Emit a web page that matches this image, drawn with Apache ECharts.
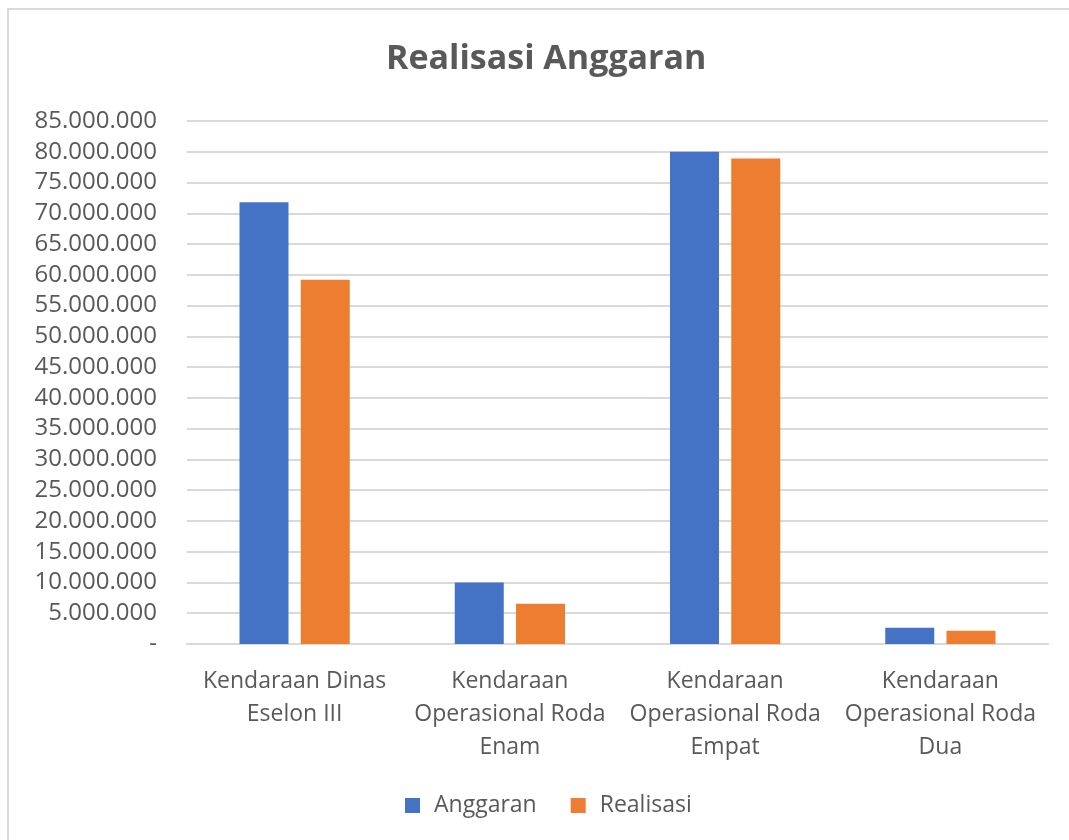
<!DOCTYPE html>
<html>
<head>
<meta charset="utf-8">
<script src="https://cdn.jsdelivr.net/npm/echarts@6/dist/echarts.min.js"></script>
<style>
  html, body { margin: 0; padding: 0; background: #fff; }
  #chart { width: 1069px; height: 840px; }
</style>
</head>
<body>
<div id="chart"></div>
<script>
// Budget vs realisation per vehicle category (Rupiah)
const categories = [
  'Kendaraan Dinas\nEselon III',
  'Kendaraan\nOperasional Roda\nEnam',
  'Kendaraan\nOperasional Roda\nEmpat',
  'Kendaraan\nOperasional Roda\nDua'
];
const anggaran = [71800000, 10000000, 80000000, 2650000];
const realisasi = [59200000, 6550000, 78900000, 2170000];

const FONT = '"Open Sans", "Noto Sans", sans-serif';
const TEXT = '#595959';

function fmt(v) {
  if (v === 0) return '-';
  return String(v).replace(/\B(?=(\d{3})+(?!\d))/g, '.');
}

const chart = echarts.init(document.getElementById('chart'));
chart.setOption({
  animation: false,
  backgroundColor: '#fff',
  textStyle: { fontFamily: FONT },
  graphic: [{
    type: 'rect',
    shape: { x: 8, y: 9, width: 1080, height: 850 },
    style: { fill: 'none', stroke: '#d9d9d9', lineWidth: 2 },
    silent: true
  }],
  title: {
    text: 'Realisasi Anggaran',
    left: 386,
    top: 42,
    padding: 0,
    textStyle: { fontFamily: FONT, fontSize: 34, fontWeight: 'bold', color: TEXT }
  },
  legend: {
    left: 405,
    top: 794,
    padding: 0,
    itemWidth: 15,
    itemHeight: 15,
    itemGap: 34,
    icon: 'rect',
    textStyle: { fontFamily: FONT, fontSize: 23, color: TEXT, padding: [0, 0, 0, 9] },
    data: ['Anggaran', 'Realisasi']
  },
  grid: { left: 187, right: 21, top: 121, bottom: 196, containLabel: false },
  xAxis: {
    type: 'category',
    data: categories,
    axisLine: { lineStyle: { color: '#d9d9d9', width: 2 } },
    axisTick: { show: false },
    axisLabel: {
      fontFamily: FONT, fontSize: 23, color: TEXT,
      lineHeight: 33, margin: 21, interval: 0
    }
  },
  yAxis: {
    type: 'value',
    min: 0,
    max: 85000000,
    interval: 5000000,
    axisLine: { show: false },
    axisTick: { show: false },
    splitLine: { lineStyle: { color: '#d9d9d9', width: 2 } },
    axisLabel: {
      fontFamily: FONT, fontSize: 24, color: TEXT, margin: 30,
      formatter: fmt
    }
  },
  series: [
    {
      name: 'Anggaran', type: 'bar', data: anggaran,
      itemStyle: { color: '#4472C4' },
      barWidth: 49, barGap: '25%'
    },
    {
      name: 'Realisasi', type: 'bar', data: realisasi,
      itemStyle: { color: '#ED7D31' },
      barWidth: 49, barGap: '25%'
    }
  ]
});
</script>
</body>
</html>
